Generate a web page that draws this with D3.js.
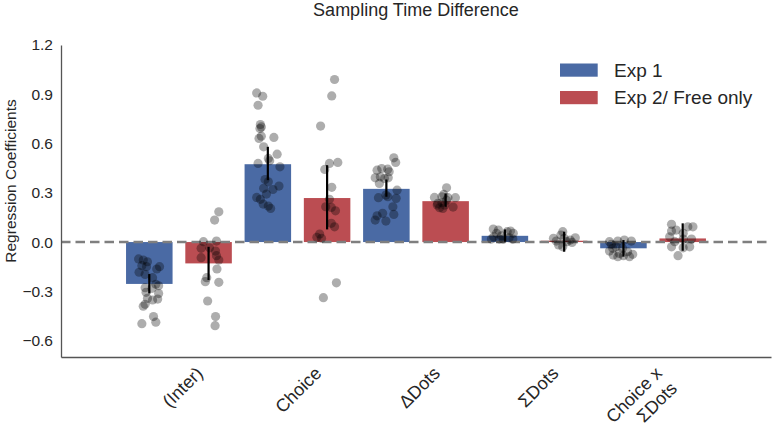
<!DOCTYPE html>
<html><head><meta charset="utf-8">
<script src="https://cdn.jsdelivr.net/npm/d3@7"></script>
<style>body{margin:0;background:#fff}svg{display:block;font-family:"Liberation Sans",Arial,sans-serif}</style>
</head><body><svg id="c" width="773" height="426"></svg>
<script>
const categories = ["(Inter)", "Choice", "ΔDots", "ΣDots", "Choice x\nΣDots"];
const seriesNames = ["Exp 1", "Exp 2/ Free only"];
const seriesColors = ["#4a6aa4", "#bb4d52"];
const yTicks = [-0.6, -0.3, 0.0, 0.3, 0.6, 0.9, 1.2];
const titleText = "Sampling Time Difference";
const yLabel = "Regression Coefficients";

const exp1Means = [-0.255, 0.474, 0.324, 0.038, -0.038];
const exp2Means = [-0.130, 0.268, 0.249, 0.008, 0.022];
const exp1Lo = [-0.313, 0.377, 0.276, 0.002, -0.089];
const exp1Hi = [-0.195, 0.580, 0.381, 0.077, 0.012];
const exp2Lo = [-0.231, 0.077, 0.215, -0.059, -0.053];
const exp2Hi = [-0.029, 0.468, 0.296, 0.063, 0.114];

// individual subject coefficients: [value, jitter (fraction of bar width)]
const exp1Dots = [
  [[-0.103,-0.23],[-0.110,-0.13],[-0.120,-0.04],[-0.144,-0.16],[-0.150,-0.06],[-0.150,0.22],[-0.164,0.16],[-0.184,-0.22],[-0.197,-0.09],[-0.217,0.07],[-0.257,0.14],[-0.266,0.20],[-0.278,-0.09],[-0.282,0.06],[-0.306,-0.07],[-0.314,0.20],[-0.343,-0.04],[-0.353,0.07],[-0.347,0.18],[-0.379,-0.09],[-0.391,-0.13],[-0.454,0.09],[-0.488,0.14],[-0.497,-0.16]],
  [[0.908,-0.24],[0.888,-0.11],[0.833,-0.21],[0.716,-0.16],[0.701,-0.14],[0.691,-0.17],[0.645,-0.14],[0.631,-0.19],[0.637,0.13],[0.580,-0.09],[0.535,0.20],[0.509,0.01],[0.495,0.04],[0.479,-0.21],[0.458,0.26],[0.381,-0.06],[0.367,0.01],[0.341,0.24],[0.327,-0.09],[0.320,0.11],[0.292,-0.03],[0.272,-0.24],[0.260,-0.16],[0.231,-0.10],[0.219,0.01],[0.205,0.06]],
  [[0.513,0.16],[0.485,0.20],[0.438,-0.20],[0.448,-0.10],[0.444,0.03],[0.428,0.06],[0.391,-0.24],[0.397,-0.13],[0.387,-0.04],[0.391,0.04],[0.357,-0.15],[0.316,0.23],[0.270,-0.17],[0.276,0.03],[0.266,0.21],[0.286,-0.01],[0.215,0.14],[0.175,-0.08],[0.168,0.16],[0.160,-0.20],[0.134,-0.24],[0.128,-0.01]],
  [[0.079,-0.25],[0.073,-0.14],[0.053,-0.18],[0.032,-0.24],[0.038,-0.07],[0.063,0.05],[0.067,0.12],[0.053,0.18],[0.026,0.09],[0.018,0.17],[0.018,-0.04],[0.018,-0.12],[0.018,-0.29]],
  [[0.002,-0.30],[-0.014,-0.26],[0.006,-0.12],[0.012,0.02],[0.006,0.17],[-0.029,-0.16],[-0.038,-0.02],[-0.038,-0.23],[-0.055,-0.30],[-0.069,-0.09],[-0.059,0.09],[-0.075,0.20],[-0.089,0.13],[-0.079,-0.22],[-0.089,-0.12],[-0.083,0.00]]
];
const exp2Dots = [
  [[0.184,0.22],[0.134,0.13],[0.002,-0.11],[0.006,0.17],[-0.038,-0.16],[-0.035,0.02],[-0.055,0.15],[-0.095,-0.16],[-0.083,0.17],[-0.110,0.22],[-0.164,0.18],[-0.217,-0.04],[-0.241,-0.07],[-0.245,0.22],[-0.359,-0.02],[-0.454,0.15],[-0.509,0.14]],
  [[0.990,0.16],[0.890,0.10],[0.706,-0.14],[0.479,0.05],[0.485,0.23],[0.442,-0.05],[0.333,0.10],[0.260,0.05],[0.215,-0.03],[0.211,0.09],[0.190,0.18],[0.114,0.09],[0.093,0.16],[0.049,-0.16],[0.029,-0.22],[0.023,-0.12],[-0.248,0.20],[-0.339,-0.08]],
  [[0.330,0.02],[0.272,-0.24],[0.276,-0.08],[0.270,0.05],[0.270,0.21],[0.235,-0.17],[0.241,-0.08],[0.225,-0.02],[0.209,-0.13],[0.205,-0.06],[0.213,0.16],[0.225,-0.18],[0.255,0.02],[0.290,-0.04]],
  [[0.023,-0.23],[0.006,-0.17],[-0.018,-0.12],[0.043,-0.07],[0.063,-0.03],[0.023,0.00],[-0.029,-0.03],[0.012,0.13],[0.026,0.24],[-0.002,0.17],[0.002,0.06]],
  [[0.108,-0.24],[0.093,0.11],[0.093,0.22],[0.067,-0.24],[0.073,-0.14],[0.053,0.01],[0.032,-0.28],[0.018,0.01],[0.018,0.19],[0.002,-0.17],[-0.029,-0.24],[-0.035,0.01],[-0.029,0.15],[-0.083,-0.10]]
];

const series = [
  {name: seriesNames[0], color: seriesColors[0], means: exp1Means, lo: exp1Lo, hi: exp1Hi, dots: exp1Dots},
  {name: seriesNames[1], color: seriesColors[1], means: exp2Means, lo: exp2Lo, hi: exp2Hi, dots: exp2Dots}
];

const svg = d3.select("#c");
const plotLeft = 61, plotRight = 771, plotTop = 45, plotBottom = 357;
const textColor = "#262626";

const y = d3.scaleLinear().domain([-0.7, 1.2]).range([plotBottom, plotTop]);
const x0 = d3.scaleBand().domain(categories).range([plotLeft, plotRight]).paddingInner(0).paddingOuter(0.495);
const x1 = d3.scaleBand().domain(seriesNames).range([0, x0.bandwidth()]).paddingInner(0.215).paddingOuter(0.1075);
const bw = x1.bandwidth();
const jit = d3.scaleLinear().domain([-0.5, 0.5]).range([-bw / 2, bw / 2]);

// bars
series.forEach(s => {
  svg.append("g").selectAll("rect").data(categories).join("rect")
    .attr("x", (c) => x0(c) + x1(s.name))
    .attr("width", bw)
    .attr("y", (c, i) => y(Math.max(0, s.means[i])))
    .attr("height", (c, i) => Math.abs(y(s.means[i]) - y(0)))
    .attr("fill", s.color);
});

// zero line
svg.append("line")
  .attr("x1", plotLeft).attr("x2", plotRight).attr("y1", y(0)).attr("y2", y(0))
  .attr("stroke", "#7f7f7f").attr("stroke-width", 2.5).attr("stroke-dasharray", "9.5,5");

// error bars
series.forEach(s => {
  svg.append("g").selectAll("line").data(categories).join("line")
    .attr("x1", c => x0(c) + x1(s.name) + bw / 2)
    .attr("x2", c => x0(c) + x1(s.name) + bw / 2)
    .attr("y1", (c, i) => y(s.lo[i]))
    .attr("y2", (c, i) => y(s.hi[i]))
    .attr("stroke", "#000").attr("stroke-width", 2.2);
});

// dots
series.forEach(s => {
  const g = svg.append("g");
  categories.forEach((c, i) => {
    const cx = x0(c) + x1(s.name) + bw / 2;
    g.append("g").selectAll("circle").data(s.dots[i]).join("circle")
      .attr("cx", d => cx + jit(d[1]))
      .attr("cy", d => y(d[0]))
      .attr("r", 4.6)
      .attr("fill", "#000").attr("fill-opacity", 0.32);
  });
});

// y axis
const yAxis = svg.append("g").attr("transform", `translate(${plotLeft},0)`)
  .call(d3.axisLeft(y).tickValues(yTicks).tickFormat(d3.format(".1f")).tickSize(0).tickSizeOuter(0).tickPadding(8));
yAxis.select(".domain").attr("stroke", "#555").attr("stroke-width", 1.3);
yAxis.selectAll("text").attr("fill", textColor).style("font-size", "15.5px").style("font-family", '"Liberation Sans",Arial,sans-serif');

// x axis
const xAxis = svg.append("g").attr("transform", `translate(0,${plotBottom})`)
  .call(d3.axisBottom(x0).tickSize(0).tickSizeOuter(0).tickFormat(""));
xAxis.select(".domain").attr("stroke", "#555").attr("stroke-width", 1.3);

// x tick labels (rotated, right aligned)
const fsX = 18, lh = fsX * 1.18;
categories.forEach(c => {
  const lines = c.split("\n");
  const cx = x0(c) + x0.bandwidth() / 2;
  const px = cx + 25 - (lines.length - 1) * lh * Math.SQRT1_2;
  const t = svg.append("text")
    .attr("transform", `translate(${px},${plotBottom + 17.5}) rotate(-45)`)
    .attr("text-anchor", "end").attr("fill", textColor).style("font-size", fsX + "px");
  lines.forEach((l, k) => t.append("tspan").attr("x", 0).attr("y", k * lh).text(l));
});

// title
svg.append("text").attr("x", (plotLeft + plotRight) / 2).attr("y", 16)
  .attr("text-anchor", "middle").attr("fill", textColor).style("font-size", "18px").text(titleText);

// y label
svg.append("text").attr("transform", "translate(10,181) rotate(-90)")
  .attr("text-anchor", "middle").attr("dominant-baseline", "central")
  .attr("fill", textColor).style("font-size", "15.5px").text(yLabel);

// legend
const leg = svg.append("g").attr("transform", "translate(560,63.5)");
series.forEach((s, i) => {
  leg.append("rect").attr("x", 0).attr("y", i * 27.5).attr("width", 37.7).attr("height", 13.2).attr("fill", s.color);
  leg.append("text").attr("x", 54).attr("y", i * 27.5 + 6.6).attr("dominant-baseline", "central")
    .attr("fill", textColor).style("font-size", "19px").text(s.name);
});
</script></body></html>
